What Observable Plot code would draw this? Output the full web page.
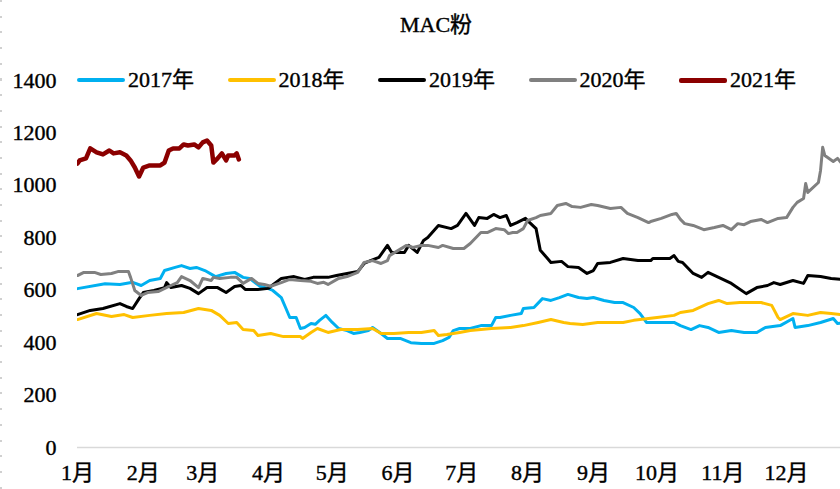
<!DOCTYPE html>
<html>
<head>
<meta charset="utf-8">
<script src="https://cdn.jsdelivr.net/npm/d3@7"></script>
<script src="https://cdn.jsdelivr.net/npm/@observablehq/plot@0.6"></script>
<style>
  html, body { margin: 0; padding: 0; background: #fff; }
  #wrap { position: relative; width: 840px; height: 489px; overflow: hidden;
          font-family: "Liberation Serif", "Noto Sans CJK SC", serif; color: #000; }
  #title { position: absolute; left: 336px; width: 200px; top: 11px; text-align: center;
           font-size: 22px; line-height: 28px; -webkit-text-stroke: 0.4px #000; }
  .leg { position: absolute; top: 68px; height: 24px; display: flex; align-items: center;
         font-size: 22px; line-height: 24px; white-space: nowrap; -webkit-text-stroke: 0.4px #000; }
  .sw { width: 48px; border-radius: 2px; margin-right: 3px; }
  #chart { position: absolute; left: 0; top: 0; }
  #chart svg g[aria-label$="tick label"] text { stroke: #000; stroke-width: 0.4px; }
  #edge { position: absolute; left: 0; top: 0; width: 2px; height: 489px;
          background: repeating-linear-gradient(to bottom, #d0d0d0 0 2px, transparent 2px 15.7px); }
</style>
</head>
<body>
<div id="wrap">
  <div id="chart"></div>
  <div id="edge"></div>
  <div id="title"></div>
  <div id="legend"></div>
</div>
<script>
const title = "MAC粉";
const months = ["1月","2月","3月","4月","5月","6月","7月","8月","9月","10月","11月","12月"];
const monthStarts = [0,31,59,90,120,151,181,212,243,273,304,334];
const yTicks = [0,200,400,600,800,1000,1200,1400];
const seriesNames = ["2017年","2018年","2019年","2020年","2021年"];
const seriesColors = ["#00B0F0","#FFC000","#000000","#808080","#8B0000"];

// day of year (0 = 1 Jan) and price values per year
const days2017 = [0,13,20,26,30,34,39,41,46,49,53,56,60,65,70,74,78,81,86,90,92,96,98,100,103,105,107,110,112,114,117,120,123,127,130,133,137,139,143,146,152,157,162,168,172,175,177,180,185,190,195,197,199,204,209,210,215,219,223,227,231,236,240,243,248,253,257,262,265,268,271,281,284,289,293,297,302,308,314,320,324,331,337,338,344,350,356,358,360];
const values2017 = [606,625,622,630,618,637,645,675,687,694,683,687,675,652,664,668,649,645,615,606,599,572,534,496,496,454,458,473,470,485,504,477,454,446,435,439,446,458,435,416,416,400,397,397,408,420,446,454,454,465,465,496,496,504,511,530,534,568,561,572,584,572,568,572,561,553,553,534,511,477,477,477,465,450,465,458,439,446,439,439,458,465,492,458,465,477,492,473,475];

const days2018 = [0,9,16,22,26,34,42,50,57,63,67,71,75,78,83,85,91,97,105,106,110,113,118,124,132,139,143,149,156,162,168,170,174,180,185,195,204,210,217,223,229,232,238,245,251,257,262,269,273,281,284,290,297,302,306,312,322,327,330,331,337,344,350,355,360];
const values2018 = [488,511,500,507,496,504,511,515,530,523,504,473,477,450,446,427,435,423,423,416,439,454,439,450,450,454,435,435,439,439,446,427,431,439,446,454,458,465,477,488,477,473,469,477,477,477,485,492,496,504,515,523,549,561,549,553,553,542,496,488,511,504,515,511,507];

const days2019 = [0,6,12,20,23,26,29,31,36,41,42,44,49,53,57,61,66,70,74,77,79,85,90,91,96,102,107,111,118,122,127,132,135,138,142,146,148,154,156,160,163,165,170,176,179,183,187,189,193,196,199,202,204,207,211,213,216,218,221,223,228,231,236,240,243,245,251,257,264,270,271,279,281,283,285,290,294,297,302,308,315,320,325,328,331,337,342,344,350,355,360];
const values2019 = [507,523,530,549,538,530,568,591,599,610,629,610,618,607,587,610,610,591,614,618,603,603,607,614,645,652,641,649,649,656,664,671,702,713,725,771,744,744,771,744,790,801,847,835,847,893,847,877,874,889,877,885,847,858,874,858,835,752,725,706,710,690,687,664,675,702,706,721,713,713,721,721,732,710,706,664,649,668,649,626,587,610,618,629,622,637,626,656,652,645,641];

const days2020 = [0,3,8,11,16,19,24,25,27,30,33,38,44,47,49,53,57,59,63,64,67,72,75,78,82,85,88,91,96,100,105,110,113,116,118,123,127,132,135,139,143,146,147,155,158,162,165,170,172,177,182,185,190,193,197,201,203,205,207,210,212,216,218,223,226,230,233,237,242,245,251,256,259,264,269,270,275,280,282,284,286,290,295,300,304,308,311,314,317,322,325,330,334,337,339,342,343,344,349,350,351,352,356,358,360];
const values2020 = [656,668,668,660,664,671,671,649,599,580,591,595,618,629,652,637,610,645,637,649,645,649,649,626,645,626,622,615,629,641,637,634,626,630,622,645,652,668,706,713,702,713,732,771,763,771,771,763,771,759,759,778,820,820,835,831,816,820,820,835,866,877,885,893,923,931,919,916,927,923,912,916,893,877,858,862,874,889,893,870,854,847,831,839,847,831,854,850,862,870,858,874,877,916,935,950,1007,973,1011,1057,1145,1114,1091,1103,1083];

const days2021 = [0,1,4,6,9,12,15,17,20,23,25,27,29,31,34,39,41,43,45,48,50,52,55,57,59,61,63,64,66,68,70,71,74,75,76];
const values2021 = [1083,1095,1103,1141,1126,1118,1133,1122,1126,1114,1095,1068,1034,1068,1076,1076,1087,1133,1141,1141,1156,1152,1156,1145,1164,1171,1152,1087,1103,1122,1095,1114,1114,1122,1099];

const seriesDays = [days2017, days2018, days2019, days2020, days2021];
const seriesValues = [values2017, values2018, values2019, values2020, values2021];
const seriesWidths = [3, 3, 3, 3, 4.5];

const lineMarks = seriesNames.map((name, i) => {
  const rows = seriesDays[i].map((d, j) => ({day: d, value: seriesValues[i][j], series: name}));
  return Plot.line(rows, {x: "day", y: "value", stroke: seriesColors[i], strokeWidth: seriesWidths[i],
    strokeLinejoin: "round", strokeLinecap: "round", clip: true});
});

const chart = Plot.plot({
  width: 840,
  height: 489,
  marginTop: 80,
  marginBottom: 42,
  marginLeft: 77,
  marginRight: 0,
  style: {fontFamily: "'Liberation Serif','Noto Sans CJK SC',serif", fontSize: "22px", color: "#000", background: "transparent"},
  x: {domain: [0, 359.4], ticks: monthStarts, tickFormat: d => months[monthStarts.indexOf(d)],
      tickSize: 0, tickPadding: 17, label: null},
  y: {domain: [0, 1400], ticks: yTicks, tickFormat: d => String(d), tickSize: 0, tickPadding: 21, label: null},
  marks: [
    Plot.ruleY([0], {stroke: "#d9d9d9", strokeWidth: 1.5}),
    ...lineMarks
  ]
});
document.getElementById("chart").appendChild(chart);
document.getElementById("title").textContent = title;

const legend = document.getElementById("legend");
const legendLeft = [77, 227.5, 378, 528.5, 679];
seriesNames.forEach((name, i) => {
  const item = document.createElement("div");
  item.className = "leg";
  item.style.left = legendLeft[i] + "px";
  const sw = document.createElement("span");
  sw.className = "sw";
  sw.style.background = seriesColors[i];
  sw.style.height = (i === 4 ? 5 : 4) + "px";
  const tx = document.createElement("span");
  tx.textContent = name;
  item.appendChild(sw);
  item.appendChild(tx);
  legend.appendChild(item);
});
</script>
</body>
</html>
